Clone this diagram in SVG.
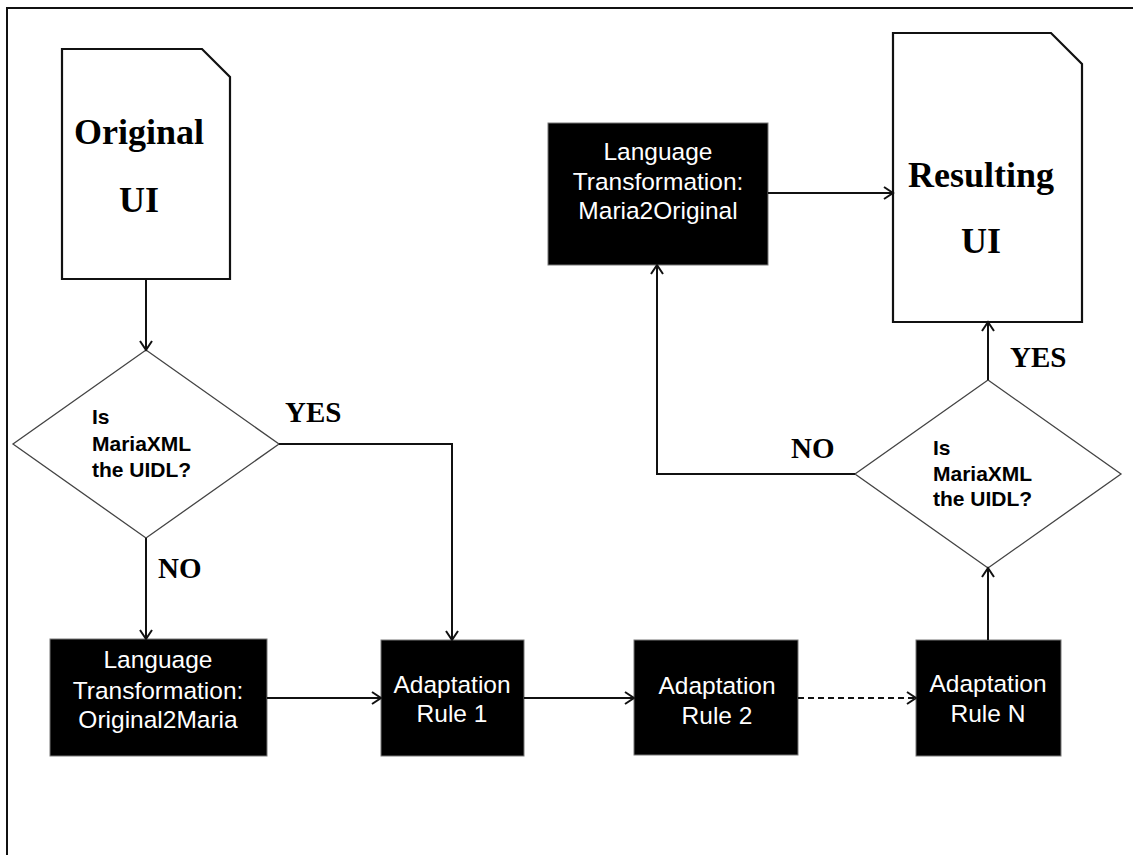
<svg xmlns="http://www.w3.org/2000/svg" width="1133" height="855" viewBox="0 0 1133 855">
<defs>
<marker id="arr" markerUnits="userSpaceOnUse" markerWidth="20" markerHeight="20" viewBox="-12 -10 14 20" refX="0" refY="0" orient="auto">
<path d="M-9,-6 L0,0 L-9,6" fill="none" stroke="#111" stroke-width="2"/>
</marker>
</defs>
<style>
.doc{fill:#fff;stroke:#111;stroke-width:2.2}
.dia{fill:#fff;stroke:#444;stroke-width:1.3}
.box{fill:#000;stroke:#777;stroke-width:1}
.ser{font-family:"Liberation Serif",serif;font-weight:bold;fill:#000}
.q{font-family:"Liberation Sans",Arial,sans-serif;font-weight:bold;font-size:21px;fill:#000}
.w{font-family:"Liberation Sans",Arial,sans-serif;font-size:24.5px;fill:#fff;text-anchor:middle}
.c{fill:none;stroke:#111;stroke-width:2}
</style>
<rect width="1133" height="855" fill="#fff"/>
<path d="M7,855 L7,8 L1133,8" fill="none" stroke="#111" stroke-width="2"/>

<g id="original-ui">
<path class="doc" d="M62,49 L202,49 L230,77 L230,279 L62,279 Z"/>
<text class="ser" x="139" y="144" font-size="36" text-anchor="middle">Original</text>
<text class="ser" x="139" y="212" font-size="36" text-anchor="middle">UI</text>
</g>

<g id="decision1">
<path class="dia" d="M146,350 L279,444 L146,538 L13,444 Z"/>
<text class="q" x="92" y="424">Is</text>
<text class="q" x="92" y="451">MariaXML</text>
<text class="q" x="92" y="477">the UIDL?</text>
</g>

<g id="original2maria">
<rect class="box" x="50" y="639" width="217" height="117"/>
<text class="w" x="158" y="668">Language</text>
<text class="w" x="158" y="699">Transformation:</text>
<text class="w" x="158" y="728">Original2Maria</text>
</g>

<g id="rule1">
<rect class="box" x="381" y="640" width="143" height="116"/>
<text class="w" x="452" y="693">Adaptation</text>
<text class="w" x="452" y="722">Rule 1</text>
</g>

<g id="rule2">
<rect class="box" x="634" y="640" width="164" height="115"/>
<text class="w" x="717" y="694">Adaptation</text>
<text class="w" x="717" y="724">Rule 2</text>
</g>

<g id="ruleN">
<rect class="box" x="916" y="640" width="145" height="116"/>
<text class="w" x="988" y="692">Adaptation</text>
<text class="w" x="988" y="722">Rule N</text>
</g>

<g id="decision2">
<path class="dia" d="M988,380 L1121,474 L988,568 L855,474 Z"/>
<text class="q" x="933" y="455">Is</text>
<text class="q" x="933" y="481">MariaXML</text>
<text class="q" x="933" y="506">the UIDL?</text>
</g>

<g id="maria2original">
<rect class="box" x="548" y="123" width="220" height="142"/>
<text class="w" x="658" y="160">Language</text>
<text class="w" x="658" y="190">Transformation:</text>
<text class="w" x="658" y="219">Maria2Original</text>
</g>

<g id="resulting-ui">
<path class="doc" d="M893,33 L1051,33 L1082,64 L1082,322 L893,322 Z"/>
<text class="ser" x="981" y="187" font-size="36" text-anchor="middle">Resulting</text>
<text class="ser" x="981" y="253" font-size="36" text-anchor="middle">UI</text>
</g>

<g id="connectors">
<path class="c" d="M146,279 L146,350" marker-end="url(#arr)"/>
<path class="c" d="M279,444 L452,444 L452,640" marker-end="url(#arr)"/>
<path class="c" d="M146,538 L146,639" marker-end="url(#arr)"/>
<path class="c" d="M267,698 L381,698" marker-end="url(#arr)"/>
<path class="c" d="M524,698 L634,698" marker-end="url(#arr)"/>
<path class="c" d="M798,698 L916,698" stroke-dasharray="6,4" marker-end="url(#arr)"/>
<path class="c" d="M988,640 L988,568" marker-end="url(#arr)"/>
<path class="c" d="M988,380 L988,322" marker-end="url(#arr)"/>
<path class="c" d="M855,474 L657,474 L657,265" marker-end="url(#arr)"/>
<path class="c" d="M768,193 L893,193" marker-end="url(#arr)"/>
<text class="ser" x="285" y="422" font-size="29">YES</text>
<text class="ser" x="158" y="578" font-size="29">NO</text>
<text class="ser" x="1010" y="367" font-size="29">YES</text>
<text class="ser" x="791" y="458" font-size="29">NO</text>
</g>
</svg>
